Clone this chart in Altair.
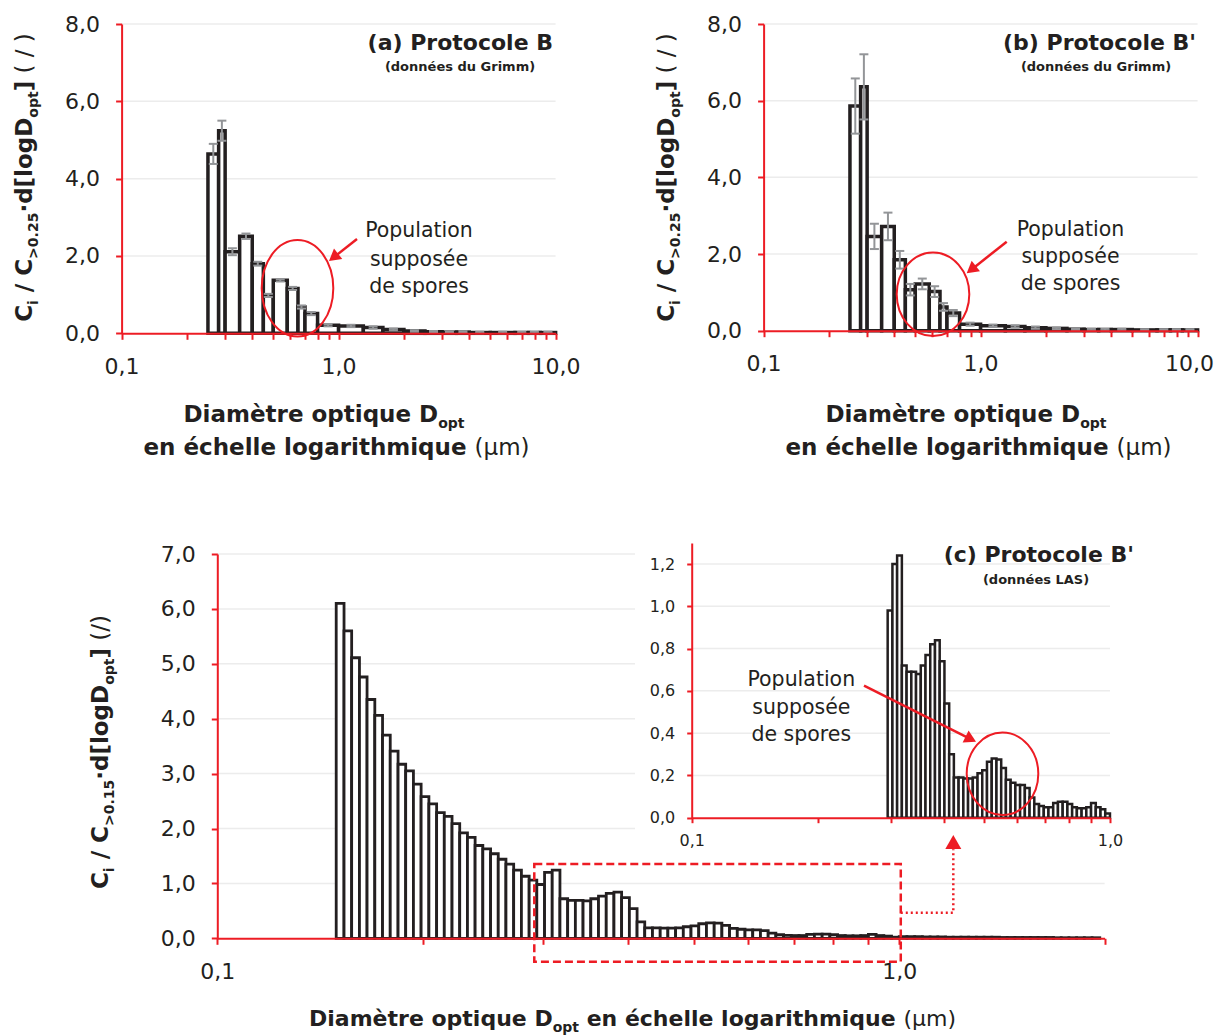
import math
import altair as alt
import pandas as pd

# ---------------------------------------------------------------- data
# Grimm channels (lower/upper optical diameter, µm)
grimm_edges = [0.25, 0.28, 0.30, 0.35, 0.40, 0.45, 0.50, 0.58, 0.65, 0.70, 0.80,
               1.0, 1.3, 1.6, 2.0, 2.5, 3.0, 3.5, 4.0, 5.0, 6.5, 7.5, 8.5, 10.0]
# (a) Protocole B
a_values = [4.64, 5.24, 2.11, 2.51, 1.80, 0.98, 1.37, 1.16, 0.68, 0.51, 0.21,
            0.19, 0.15, 0.10, 0.06, 0.04, 0.03, 0.03, 0.02, 0.02, 0.02, 0.02, 0.02]
a_errors = [0.26, 0.26, 0.09, 0.07, 0.05, 0.04, 0.03, 0.04, 0.04, 0.04, 0.03,
            0.03, 0.03, 0.02, 0.02, 0.02, 0.02, 0.02, 0.02, 0.02, 0.02, 0.02, 0.02]
# (b) Protocole B'
b_values = [5.86, 6.36, 2.46, 2.72, 1.85, 1.07, 1.22, 1.02, 0.62, 0.46, 0.17,
            0.13, 0.11, 0.08, 0.06, 0.04, 0.03, 0.03, 0.03, 0.02, 0.02, 0.02, 0.02]
b_errors = [0.72, 0.85, 0.33, 0.36, 0.23, 0.15, 0.14, 0.14, 0.10, 0.08, 0.04,
            0.03, 0.03, 0.03, 0.02, 0.02, 0.02, 0.02, 0.02, 0.02, 0.02, 0.02, 0.02]

# LAS channels (edges, µm)
las_edges = [
    0.1494, 0.1534, 0.1574, 0.1616, 0.1658, 0.1702, 0.1747, 0.1793, 0.1841, 0.1889,
    0.1939, 0.1990, 0.2043, 0.2097, 0.2152, 0.2209, 0.2267, 0.2327, 0.2388, 0.2451,
    0.2516, 0.2582, 0.2650, 0.2720, 0.2792, 0.2866, 0.2941, 0.3019, 0.3098, 0.3180,
    0.3264, 0.3350, 0.3438, 0.3529, 0.3622, 0.3718, 0.3816, 0.3916, 0.4020, 0.4126,
    0.4234, 0.4346, 0.4461, 0.4578, 0.4699, 0.4823, 0.4950, 0.5081, 0.5215, 0.5353,
    0.5494, 0.5638, 0.5787, 0.5940, 0.6097, 0.6258, 0.6423, 0.6592, 0.6766, 0.6945,
    0.7127, 0.7315, 0.7508, 0.7707, 0.7910, 0.8119, 0.8333, 0.8553, 0.8778, 0.9010,
    0.9247, 0.9491, 0.9741, 0.9998, 1.0262, 1.0533, 1.0811, 1.1096, 1.1389, 1.1690,
    1.1997, 1.2314, 1.2639, 1.2972, 1.3314, 1.3666, 1.4026, 1.4396, 1.4776, 1.5166,
    1.5565, 1.5976, 1.6397, 1.6830, 1.7274, 1.7730, 1.8198, 1.8678, 1.9171, 1.9676]
las_values_small = [6.10, 5.60, 5.11, 4.76, 4.35, 4.06, 3.70, 3.41, 3.17, 3.05,
                    2.81, 2.58, 2.45, 2.29, 2.22, 2.09, 1.92, 1.84, 1.69, 1.63,
                    1.54, 1.44, 1.35, 1.24, 1.13, 1.06]
las_values_mid = [0.98, 1.20, 1.24, 0.72, 0.69, 0.69, 0.68, 0.72, 0.77, 0.82,
                  0.84, 0.74, 0.54, 0.30, 0.19, 0.19, 0.185, 0.185, 0.19, 0.21,
                  0.225, 0.265, 0.28, 0.275, 0.235, 0.18, 0.165, 0.155, 0.155, 0.14,
                  0.095, 0.065, 0.055, 0.05, 0.05, 0.07, 0.075, 0.075, 0.065, 0.05,
                  0.045, 0.045, 0.05, 0.07, 0.05, 0.04, 0.02]
las_values_large = [0.03, 0.03, 0.03, 0.025, 0.025, 0.025, 0.02, 0.02, 0.02, 0.02,
                    0.02, 0.02, 0.02, 0.015, 0.015, 0.015, 0.015, 0.015, 0.015, 0.015,
                    0.01, 0.01, 0.01, 0.01, 0.01, 0.01]
las_values = las_values_small + las_values_mid + las_values_large
assert len(las_edges) == len(las_values) + 1

x_ticks_grimm = [0.1, 0.2, 0.3, 0.4, 0.5, 0.6, 0.7, 0.8, 0.9, 1, 2, 3, 4, 5, 6, 7, 8, 9, 10]
x_ticks_las = [0.1, 0.2, 0.3, 0.4, 0.5, 0.6, 0.7, 0.8, 0.9, 1, 2]
x_ticks_inset = [0.1, 0.2, 0.3, 0.4, 0.5, 0.6, 0.7, 0.8, 0.9, 1]
y_ticks_grimm = [0, 2, 4, 6, 8]
y_ticks_las = [0, 1, 2, 3, 4, 5, 6, 7]
y_ticks_inset = [0, 0.2, 0.4, 0.6, 0.8, 1.0, 1.2]

# ---------------------------------------------------------------- style
W, H = 1207, 1027
RED = "#ed1c24"
INK = "#231f20"
GRAY = "#939598"
GRID = "#ececec"
FONT = "DejaVu Sans"

XLAB = ("datum.value == 0.1 ? '0,1' : datum.value == 1 ? '1,0' : "
        "datum.value == 10 ? '10,0' : ''")
XLAB_NO_END = "datum.value == 0.1 ? '0,1' : datum.value == 1 ? '1,0' : ''"
YLAB = "replace(format(datum.value, '.1f'), '.', ',')"


def x_axis(values, axis_y, pad, fs, tick=6, expr=XLAB):
    return alt.Axis(values=values, labelExpr=expr, orient="bottom", offset=axis_y - H,
                    domainColor=RED, domainWidth=2, tickColor=RED, tickWidth=2,
                    tickSize=tick, labelFont=FONT, labelFontSize=fs, labelColor=INK,
                    labelPadding=pad, labelBaseline="middle", labelOverlap=False,
                    labelFlush=False, grid=False, title=None, zindex=1)


def y_axis(values, axis_x, pad, fs, tick=6):
    return alt.Axis(values=values, labelExpr=YLAB, orient="left", offset=-axis_x,
                    domainColor=RED, domainWidth=2, tickColor=RED, tickWidth=2,
                    tickSize=tick, labelFont=FONT, labelFontSize=fs, labelColor=INK,
                    labelPadding=pad, labelOverlap=False, labelFlush=False,
                    grid=False, title=None, zindex=1)


def panel(xdom, xrng, ydom, yrng, xax, yax, bars, sw, grid_vals, err=None,
          extras=(), background=None):
    xs = alt.Scale(type="log", domain=xdom, range=xrng, nice=False)
    ys = alt.Scale(domain=ydom, range=yrng, nice=False, zero=False)
    X = lambda f: alt.X(f, type="quantitative", scale=xs, axis=xax)
    Y = lambda f: alt.Y(f, type="quantitative", scale=ys, axis=yax)
    layers = []
    if background is not None:
        layers.append(alt.Chart(pd.DataFrame(background)).mark_rect(
            fill="white", strokeWidth=0).encode(
            x=X("x0"), x2=alt.X2("x1"), y=Y("y0"), y2=alt.Y2("y1")))
    gdf = pd.DataFrame({"g": grid_vals, "x0": xdom[0], "x1": xdom[1]})
    layers.append(alt.Chart(gdf).mark_rule(color=GRID, strokeWidth=1.5).encode(
        x=X("x0"), x2=alt.X2("x1"), y=Y("g")))
    layers.append(alt.Chart(bars).mark_rect(fill="white", stroke=INK, strokeWidth=sw).encode(
        x=X("lo"), x2=alt.X2("hi"), y=Y("v"), y2=alt.Y2("z")))
    if err is not None:
        layers.append(alt.Chart(err).mark_rule(color=GRAY, strokeWidth=2).encode(
            x=X("xc"), y=Y("elo"), y2=alt.Y2("ehi")))
        for f in ("elo", "ehi"):
            layers.append(alt.Chart(err).mark_tick(
                orient="horizontal", color=GRAY, size=9, thickness=2, opacity=1).encode(
                x=X("xc"), y=Y(f)))
    for e in extras:
        layers.append(e(X, Y))
    return alt.layer(*layers)


def grimm_frames(values, errors):
    lo = grimm_edges[:-1]
    hi = grimm_edges[1:]
    bars = pd.DataFrame({"lo": lo, "hi": hi, "v": values, "z": 0.0})
    xc = [math.sqrt(l * h) for l, h in zip(lo, hi)]
    err = pd.DataFrame({"xc": xc,
                        "elo": [v - e for v, e in zip(values, errors)],
                        "ehi": [v + e for v, e in zip(values, errors)]})
    return bars, err


las_df = pd.DataFrame({"lo": las_edges[:-1], "hi": las_edges[1:],
                       "v": las_values, "z": 0.0})
inset_df = las_df[(las_df["lo"] >= 0.294) & (las_df["hi"] <= 1.0)]

# ---------------------------------------------------------------- panels
a_bars, a_err = grimm_frames(a_values, a_errors)
b_bars, b_err = grimm_frames(b_values, b_errors)

pA = panel([0.1, 10], [113.6, 547.6], [0, 8], [325.3, 16.0],
           x_axis(x_ticks_grimm, 325.3, 27, 22), y_axis(y_ticks_grimm, 113.6, 16, 22),
           a_bars, 3.5, [2, 4, 6, 8], a_err)
pB = panel([0.1, 10], [755.6, 1189.6], [0, 8], [322.7, 16.0],
           x_axis(x_ticks_grimm, 322.7, 27, 22, expr=XLAB_NO_END),
           y_axis(y_ticks_grimm, 755.6, 16, 22),
           b_bars, 3.5, [2, 4, 6, 8], b_err)

# zoom rectangle and dotted connector of panel (c)
zoom_box = pd.DataFrame({"x0": [0.2916], "x1": [1.005], "y0": [-0.426], "y1": [1.353]})
link = pd.DataFrame({"x": [1.005, 1.2, 1.2], "y": [0.466, 0.466, 1.62], "o": [0, 1, 2]})
link_head = pd.DataFrame({"x": [1.2], "y": [1.754]})


def box_layer(X, Y):
    return alt.Chart(zoom_box).mark_rect(fillOpacity=0, stroke=RED, strokeWidth=2.5,
                                         strokeDash=[8, 4]).encode(
        x=X("x0"), x2=alt.X2("x1"), y=Y("y0"), y2=alt.Y2("y1"))


def link_layer(X, Y):
    return alt.Chart(link).mark_line(color=RED, strokeWidth=2.5, strokeDash=[2, 3]).encode(
        x=X("x"), y=Y("y"), order="o:Q")


def head_layer(X, Y):
    return alt.Chart(link_head).mark_point(shape="triangle-up", filled=True, color=RED,
                                           size=256, opacity=1).encode(x=X("x"), y=Y("y"))


C_X1 = 209.3 + 682 * math.log10(20)
pC = panel([0.1, 2.0], [209.3, C_X1], [0, 7], [930.3, 546.0],
           x_axis(x_ticks_las, 930.3, 27, 22), y_axis(y_ticks_las, 209.3, 16, 22),
           las_df, 2.8, [1, 2, 3, 4, 5, 6, 7], None,
           extras=(box_layer, link_layer, head_layer))

pI = panel([0.1, 1.0], [683.7, 1102.0], [0, 1.3], [809.7, 534.9],
           x_axis(x_ticks_inset, 809.7, 18, 16, 5), y_axis(y_ticks_inset, 683.7, 12, 16, 5),
           inset_df, 2.5, [0.2, 0.4, 0.6, 0.8, 1.0, 1.2], None,
           background={"x0": [0.0732], "x1": [1.06], "y0": [-0.07], "y1": [1.37]})

# ---------------------------------------------------------------- annotations
REG = {" ": .318, "(": .390, ")": .390, "/": .337, "µ": .636, "m": .974, "P": .603,
       "o": .612, "p": .635, "u": .634, "l": .278, "a": .613, "t": .392, "i": .278,
       "n": .634, "s": .521, "é": .615, "e": .615, "d": .635, "r": .411, "c": .550}
BLD = {" ": .348, "(": .457, ")": .457, "/": .365, ">": .838, ".": .380, "·": .380,
       "C": .734, "D": .830, "i": .343, "d": .716, "[": .457, "]": .457, "l": .343,
       "o": .687, "g": .716, "p": .716, "t": .478, "a": .675, "m": 1.042, "è": .678,
       "é": .678, "e": .678, "r": .493, "q": .716, "u": .712, "n": .712, "h": .712,
       "c": .593, "s": .595, "G": .821, "P": .733, "B": .762, "L": .637, "A": .774,
       "S": .720, "'": .306, "b": .716}
for dgt in "0123456789":
    REG[dgt] = .636
    BLD[dgt] = .696


def tw(s, size, bold):
    tbl = BLD if bold else REG
    return sum(tbl.get(c, .62) for c in s) * size


DUMMY = pd.DataFrame({"d": [0]})


def label(s, x, y, size, bold=False, align="left", angle=0, color=INK, baseline="alphabetic"):
    return alt.Chart(DUMMY).mark_text(
        text=s, align=align, baseline=baseline, font=FONT, fontSize=size,
        fontWeight="bold" if bold else "normal", color=color, angle=angle).encode(
        x=alt.value(x), y=alt.value(y))


def rich(pieces, x, y, vertical=False):
    """pieces: (text, size, bold, shift); centred on (x, y)."""
    total = sum(tw(s, f, b) for s, f, b, _ in pieces)
    pos = -total / 2
    out = []
    for s, f, b, sh in pieces:
        lead = tw(s[:len(s) - len(s.lstrip())], f, b)
        body = s.strip()
        p = pos + lead
        if vertical:
            out.append(label(body, x + sh, y - p, f, b, angle=270))
        else:
            out.append(label(body, x + p, y + sh, f, b))
        pos += tw(s, f, b)
    return out


def ellipse(cx, cy, rx, ry):
    a = rx / ry
    k = 0.5523
    path = (f"M0,-1C{k*a:.4f},-1,{a:.4f},{-k},{a:.4f},0"
            f"C{a:.4f},{k},{k*a:.4f},1,0,1"
            f"C{-k*a:.4f},1,{-a:.4f},{k},{-a:.4f},0"
            f"C{-a:.4f},{-k},{-k*a:.4f},-1,0,-1Z")
    return alt.Chart(DUMMY).mark_point(shape=path, size=(2 * ry) ** 2, color=RED,
                                       strokeWidth=2, filled=False, opacity=1).encode(
        x=alt.value(cx), y=alt.value(cy))


def arrow(x1, y1, x2, y2, size=180):
    dx, dy = x2 - x1, y2 - y1
    L = math.hypot(dx, dy)
    ux, uy = dx / L, dy / L
    r = math.sqrt(size) / 2
    ry = r * math.sqrt(3) / 2
    line = alt.Chart(DUMMY).mark_rule(color=RED, strokeWidth=2.5).encode(
        x=alt.value(x1), y=alt.value(y1),
        x2=alt.value(x2 - ux * ry * 1.5), y2=alt.value(y2 - uy * ry * 1.5))
    ang = math.degrees(math.atan2(dx, -dy)) % 360
    head = alt.Chart(DUMMY).mark_point(shape="triangle-up", size=size, filled=True,
                                       color=RED, opacity=1, angle=ang).encode(
        x=alt.value(x2 - ux * ry), y=alt.value(y2 - uy * ry))
    return [line, head]


ann = []
# end label of panel (b)'s x axis, kept inside the page
ann.append(label("10,0", 1206, 322.7 + 33, 22, False, "right", baseline="middle"))

# panel titles
ann.append(label("(a) Protocole B", 545, 42, 22, True, "right"))
ann.append(label("(données du Grimm)", 452, 63, 13, True, "center"))
ann.append(label("(b) Protocole B'", 1188, 42, 22, True, "right"))
ann.append(label("(données du Grimm)", 1088, 63, 13, True, "center"))
ann.append(label("(c) Protocole B'", 1126, 554, 22, True, "right"))
ann.append(label("(données LAS)", 1028, 576, 13, True, "center"))

# "Population supposée de spores"
pop_lines = ["Population", "supposée", "de spores"]
for cx, ys in [(411, [228.5, 257.5, 284.5]), (1062.5, [227.7, 255.3, 282.0]),
               (793.3, [677.7, 706.0, 733.0])]:
    for t, yy in zip(pop_lines, ys):
        ann.append(label(t, cx, yy, 20.5, False, "center"))

ann += [ellipse(289.5, 280.3, 35.8, 48.3), ellipse(925.0, 286.3, 36.3, 41.7),
        ellipse(994.5, 765.8, 35.8, 41.2)]
ann += arrow(349, 231, 321, 253)
ann += arrow(998.7, 233.7, 958.7, 265.3)
ann += arrow(856, 677.7, 968, 733.7)

# axis titles
l1 = [("Diamètre optique D", 23, True, 0), ("opt", 14, True, 6)]
l2 = [("en échelle logarithmique ", 23, True, 0), ("(µm)", 23, False, 0)]
ann += rich(l1, 316, 413.7) + rich(l2, 328.5, 447)
ann += rich(l1, 958, 413.7) + rich(l2, 970.5, 447)
ann += rich([("Diamètre optique D", 22, True, 0), ("opt", 14, True, 6),
             (" en échelle logarithmique ", 22, True, 0), ("(µm)", 22, False, 0)],
            624.5, 1018)


def ytitle(lim, paren):
    return [("C", 23, True, 0), ("i", 14, True, 6), (" / C", 23, True, 0),
            (lim, 14, True, 6), ("·d[logD", 23, True, 0), ("opt", 14, True, 6),
            ("]", 23, True, 0), (paren, 23, False, 0)]


ann += rich(ytitle(">0.25", " ( / )"), 24, 169.5, vertical=True)
ann += rich(ytitle(">0.25", " ( / )"), 666, 169.5, vertical=True)
ann += rich(ytitle(">0.15", " (/)"), 100.3, 744, vertical=True)

chart = alt.layer(pA, pB, pC, pI, *ann).resolve_scale(
    x="independent", y="independent").properties(
    width=W, height=H, padding=0, autosize=alt.AutoSizeParams(type="none"),
    background="white").configure_view(strokeOpacity=0)

chart.save("out.html", embed_options={"renderer": "svg", "actions": False})
